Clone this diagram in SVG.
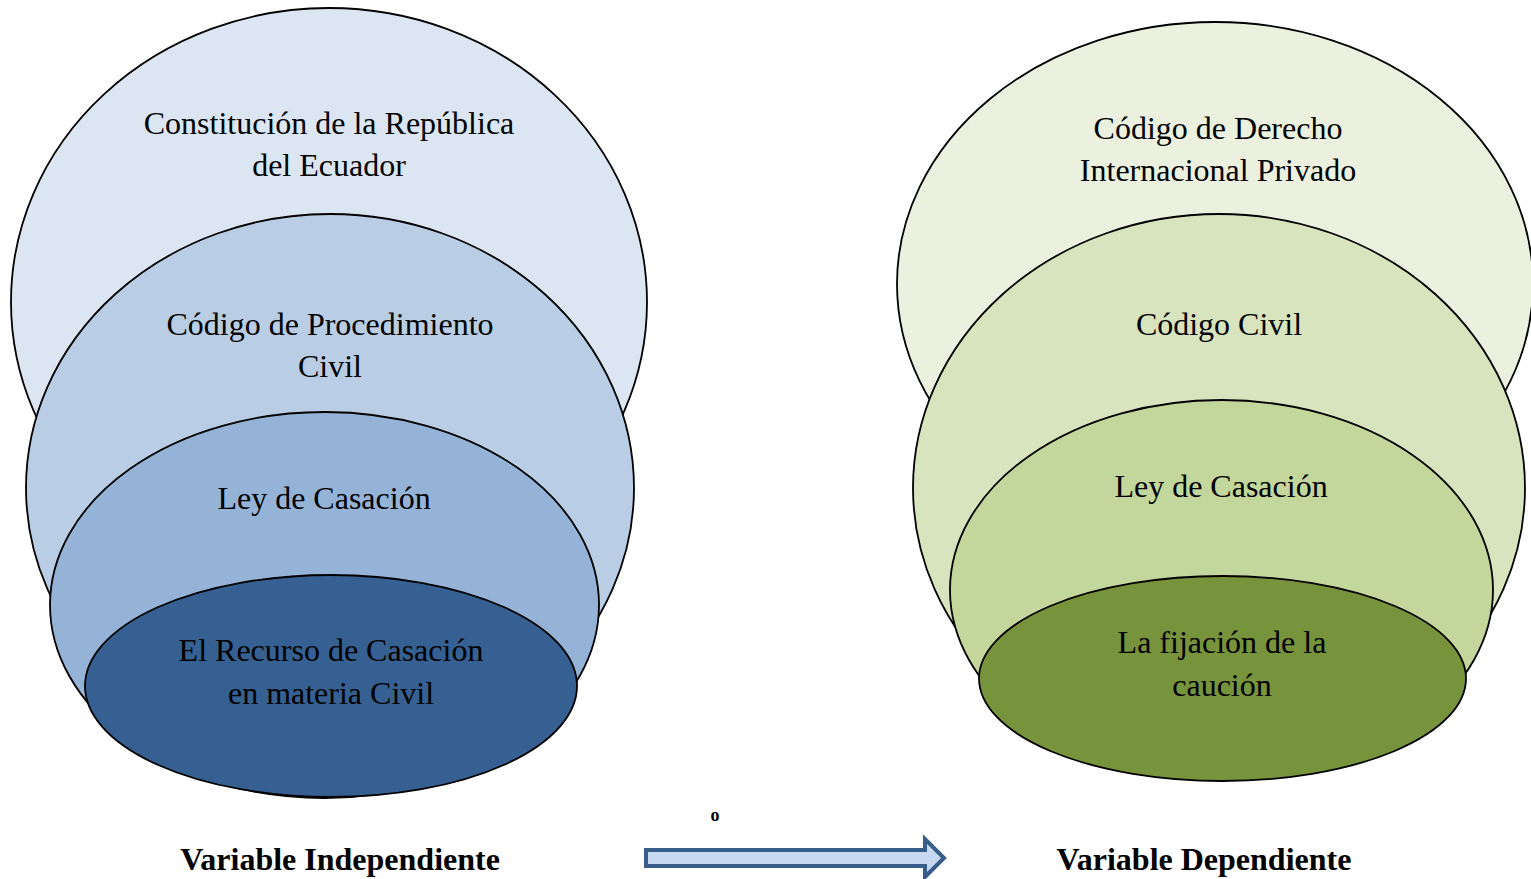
<svg xmlns="http://www.w3.org/2000/svg" width="1531" height="879" viewBox="0 0 1531 879">
<style>
  .e { stroke: #000; stroke-width: 1.8; }
  .t { font-family: "Liberation Serif", "Times New Roman", serif; font-size: 32px; fill: #000; text-anchor: middle; }
  .b { font-family: "Liberation Serif", "Times New Roman", serif; font-size: 32px; font-weight: bold; fill: #000; text-anchor: middle; }
</style>
<rect width="1531" height="879" fill="#fff"/>
<g id="left-1"><ellipse class="e" cx="329" cy="302" rx="318" ry="294" fill="#DCE6F2"/>
  <text class="t" x="329" y="134">Constitución de la República</text>
  <text class="t" x="329" y="176">del Ecuador</text></g>
<g id="left-2"><ellipse class="e" cx="330" cy="488" rx="304" ry="274" fill="#B9CDE5"/>
  <text class="t" x="330" y="335">Código de Procedimiento</text>
  <text class="t" x="330" y="377">Civil</text></g>
<g id="left-3"><ellipse class="e" cx="324.5" cy="605" rx="274.5" ry="193" fill="#95B3D7"/>
  <text class="t" x="324" y="509">Ley de Casación</text></g>
<g id="left-4"><ellipse class="e" cx="331" cy="686" rx="246" ry="111" fill="#366092"/>
  <text class="t" x="331" y="661">El Recurso de Casación</text>
  <text class="t" x="331" y="704">en materia Civil</text></g>

<g id="right-1"><ellipse class="e" cx="1215" cy="284" rx="318" ry="262" fill="#EBF1DE"/>
  <text class="t" x="1218" y="139">Código de Derecho</text>
  <text class="t" x="1218" y="181">Internacional Privado</text></g>
<g id="right-2"><ellipse class="e" cx="1219" cy="488" rx="306" ry="274" fill="#D7E4BD"/>
  <text class="t" x="1219" y="335">Código Civil</text></g>
<g id="right-3"><ellipse class="e" cx="1221.5" cy="590" rx="271.5" ry="190" fill="#C3D69B"/>
  <text class="t" x="1221" y="497">Ley de Casación</text></g>
<g id="right-4"><ellipse class="e" cx="1222.5" cy="678.5" rx="243.5" ry="102.5" fill="#77933C"/>
  <text class="t" x="1222" y="653">La fijación de la</text>
  <text class="t" x="1222" y="696">caución</text></g>

<g id="label-independiente"><text class="b" x="340" y="870">Variable Independiente</text></g>
<g id="label-dependiente"><text class="b" x="1204" y="870">Variable Dependiente</text></g>
<g id="label-o"><text x="715" y="821" font-family="Liberation Serif, serif" font-size="18" font-weight="bold" text-anchor="middle">o</text></g>

<g id="connectors">
  <path d="M646,850 L925,850 L925,839 L944,858 L925,877 L925,866 L646,866 Z" fill="#C6D9F1" stroke="#385D8A" stroke-width="4" stroke-linejoin="miter"/>
</g>
</svg>
